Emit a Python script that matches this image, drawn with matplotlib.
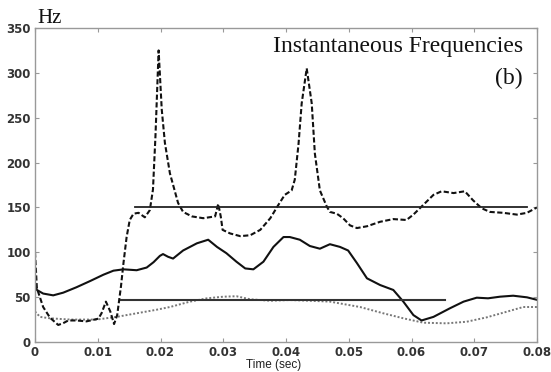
import matplotlib
matplotlib.use("Agg")
import matplotlib.pyplot as plt

# ---- data ----
dash_t = [0.0000, 0.0003, 0.0013, 0.0024, 0.0037, 0.0045, 0.0053, 0.0066, 0.0082, 0.0101,
          0.0106, 0.0113, 0.0120, 0.0126, 0.0131, 0.0137, 0.0141, 0.0146, 0.0151, 0.0157,
          0.0165, 0.0175, 0.0183, 0.0188, 0.0192, 0.0197, 0.0202, 0.0207, 0.0215, 0.0228,
          0.0236, 0.0250, 0.0268, 0.0287, 0.0292, 0.0296, 0.0299, 0.0311, 0.0327, 0.0343,
          0.0359, 0.0375, 0.0388, 0.0398, 0.0409, 0.0414, 0.0420, 0.0425, 0.0433, 0.0441,
          0.0446, 0.0454, 0.0465, 0.0470, 0.0481, 0.0491, 0.0502, 0.0513, 0.0529, 0.0550,
          0.0571, 0.0592, 0.0603, 0.0619, 0.0635, 0.0648, 0.0667, 0.0685, 0.0698, 0.0712,
          0.0725, 0.0746, 0.0768, 0.0784, 0.0800]
dash_f = [100, 60, 39, 27, 19, 21, 24, 24, 23, 26,
          32, 45, 34, 20, 30, 62, 88, 117, 136, 143,
          144, 139, 147, 170, 230, 325, 259, 222, 188, 155,
          145, 140, 138, 140, 154, 140, 125, 121, 118, 119,
          125, 138, 153, 164, 169, 181, 221, 266, 305, 266,
          210, 169, 151, 145, 143, 138, 130, 127, 129, 134,
          137, 136, 142, 153, 164, 168, 166, 168, 158, 149,
          145, 144, 142, 144, 150]

solid_t = [0.0000, 0.0003, 0.0013, 0.0029, 0.0045, 0.0066, 0.0088, 0.0109, 0.0125, 0.0141,
           0.0162, 0.0178, 0.0189, 0.0199, 0.0204, 0.0212, 0.0220, 0.0236, 0.0258, 0.0276,
           0.0290, 0.0305, 0.0321, 0.0335, 0.0348, 0.0364, 0.0380, 0.0396, 0.0406, 0.0422,
           0.0438, 0.0454, 0.0470, 0.0486, 0.0499, 0.0513, 0.0529, 0.0550, 0.0571, 0.0587,
           0.0603, 0.0616, 0.0635, 0.0661, 0.0683, 0.0704, 0.0722, 0.0741, 0.0762, 0.0784,
           0.0800]
solid_f = [66, 58, 54, 52, 55, 61, 68, 75, 79.5, 81,
           80, 83, 89, 96, 98, 95, 93, 102, 110, 114,
           106, 99, 89.5, 82, 81, 89.5, 106, 117, 117, 114,
           107, 104, 109, 106, 102, 88, 71, 63.5, 58, 45,
           30, 24, 28, 37.5, 45, 49.4, 48.7, 50.5, 51.6, 49.8,
           47]

dot_t = [0.0000, 0.0008, 0.0024, 0.0056, 0.0098, 0.0130, 0.0162, 0.0194, 0.0215, 0.0247,
         0.0274, 0.0300, 0.0321, 0.0343, 0.0375, 0.0406, 0.0438, 0.0470, 0.0486, 0.0518,
         0.0555, 0.0587, 0.0619, 0.0656, 0.0688, 0.0720, 0.0752, 0.0778, 0.0800]
dot_f = [34, 28, 26.4, 25, 25, 28, 32, 36, 39, 45,
         48.7, 50.5, 51, 47.6, 46, 46.8, 46, 45, 43, 39,
         32, 26.4, 21.5, 20.8, 22.6, 27.5, 33.8, 39, 39]

hline_upper_t = [0.0160, 0.0784]
hline_upper_f = [151, 151]
hline_lower_t = [0.0137, 0.0653]
hline_lower_f = [47, 47]

xticks = [0, 0.01, 0.02, 0.03, 0.04, 0.05, 0.06, 0.07, 0.08]
xticklabels = ["0", "0.01", "0.02", "0.03", "0.04", "0.05", "0.06", "0.07", "0.08"]
yticks = [0, 50, 100, 150, 200, 250, 300, 350]

# ---- figure ----
W, H = 551, 372
fig = plt.figure(figsize=(W / 100, H / 100), dpi=100)
ax = fig.add_axes([35 / W, 1 - 342 / H, (537 - 35) / W, (342 - 28) / H])

ax.plot(dot_t, dot_f, color="#777777", lw=1.4, linestyle=(0, (1, 1)))
ax.plot(solid_t, solid_f, color="#111111", lw=1.5)
ax.plot(dash_t, dash_f, color="#111111", lw=1.5, linestyle=(0, (2.5, 1.2)))
ax.plot(hline_upper_t, hline_upper_f, color="#222222", lw=1.3)
ax.plot(hline_lower_t, hline_lower_f, color="#333333", lw=1.5)

ax.set_xlim(0, 0.08)
ax.set_ylim(0, 350)
ax.set_xticks(xticks)
ax.set_xticklabels(xticklabels)
ax.set_yticks(yticks)

for s in ax.spines.values():
    s.set_color("#999999")
    s.set_linewidth(1.0)
ax.tick_params(direction="in", length=3, width=0.8, color="#999999",
               top=True, right=True, labelsize=8.5, labelcolor="#333333")
ax.tick_params(axis="x", pad=3)
ax.tick_params(axis="y", pad=3)
for lab in ax.get_xticklabels() + ax.get_yticklabels():
    lab.set_fontfamily("DejaVu Sans")
    lab.set_fontweight("bold")

fig.text(274 / W, 1 - 368 / H, "Time (sec)", ha="center", va="baseline",
         fontsize=8.5, family="Liberation Sans", color="#222222")
fig.text(37 / W, 1 - 23 / H, "Hz", ha="left", va="baseline",
         fontsize=15, family="Liberation Serif", color="#111111")
fig.text(523 / W, 1 - 52 / H, "Instantaneous Frequencies", ha="right", va="baseline",
         fontsize=17, family="Liberation Serif", color="#111111")
fig.text(523 / W, 1 - 84 / H, "(b)", ha="right", va="baseline",
         fontsize=17, family="Liberation Serif", color="#111111")

fig.savefig("out.png", dpi=100)
